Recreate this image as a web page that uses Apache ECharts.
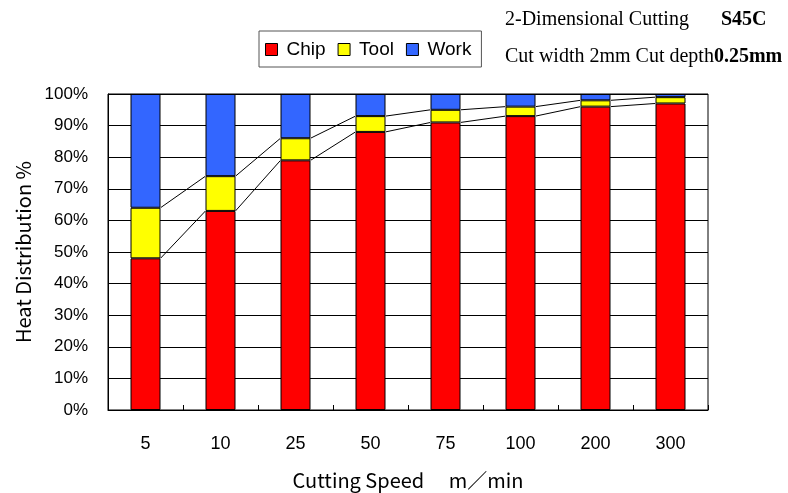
<!DOCTYPE html>
<html>
<head>
<meta charset="utf-8">
<script src="https://cdn.jsdelivr.net/npm/echarts@6/dist/echarts.min.js"></script>
<style>
  html, body { margin: 0; padding: 0; background: #fff; }
  #chart { width: 788px; height: 493px; }
</style>
</head>
<body>
<div id="chart"></div>
<script>
// Cutting speeds (m/min) and heat share (%) going to chip, tool and workpiece
const speeds = ['5', '10', '25', '50', '75', '100', '200', '300'];
const chip = [48, 63, 79, 88, 91, 93, 96, 97];
const tool = [16, 11, 7, 5, 4, 3, 2, 2];
const work = [36, 26, 14, 7, 5, 4, 2, 1];
const yTicks = [0, 10, 20, 30, 40, 50, 60, 70, 80, 90, 100];

// Connector lines between neighbouring bars at the chip and chip+tool levels
const chipTop = chip;
const toolTop = chip.map((c, i) => c + tool[i]);
const links = [];
for (let i = 0; i < speeds.length - 1; i++) {
  links.push([i, chipTop[i], chipTop[i + 1]]);
  links.push([i, toolTop[i], toolTop[i + 1]]);
}

const sans = 'Liberation Sans, Arial, sans-serif';
const gothic = 'Noto Sans CJK JP, ' + sans;
const serif = 'Liberation Serif, Times New Roman, serif';
const chart = echarts.init(document.getElementById('chart'));

chart.setOption({
  animation: false,
  backgroundColor: '#fff',
  textStyle: { fontFamily: sans },
  grid: {
    left: 108, right: 80, top: 94, bottom: 83,
    outerBoundsMode: 'none',
    containLabel: false,
    show: true, borderColor: '#000', borderWidth: 1
  },
  legend: {
    data: ['Chip', 'Tool', 'Work'],
    left: 259, top: 31,
    padding: [9, 10, 8, 6],
    borderColor: '#555', borderWidth: 1,
    itemWidth: 12, itemHeight: 12, itemGap: 12,
    icon: 'rect',
    itemStyle: { borderColor: '#000', borderWidth: 1 },
    textStyle: { fontSize: 19, color: '#000', fontFamily: sans, padding: [0, 0, 0, 4] }
  },
  graphic: [
    {
      type: 'text', left: 505, top: 10,
      style: {
        text: '{a|2-Dimensional Cutting}{b|S45C}',
        rich: {
          a: { fontFamily: serif, fontSize: 20, fill: '#000', width: 216 },
          b: { fontFamily: serif, fontSize: 20, fontWeight: 'bold', fill: '#000' }
        }
      }
    },
    {
      type: 'text', left: 505, top: 47,
      style: {
        text: '{a|Cut width 2mm Cut depth}{b|0.25mm}',
        rich: {
          a: { fontFamily: serif, fontSize: 20, fill: '#000' },
          b: { fontFamily: serif, fontSize: 20, fontWeight: 'bold', fill: '#000' }
        }
      }
    }
  ],
  xAxis: {
    type: 'category',
    data: speeds,
    name: 'Cutting Speed\u3000 m\uff0fmin',
    nameLocation: 'middle',
    nameGap: 60,
    nameTextStyle: { fontSize: 20, color: '#000', fontFamily: gothic },
    axisLine: { lineStyle: { color: '#000', width: 1 } },
    axisTick: { show: true, inside: true, length: 5, lineStyle: { color: '#000' } },
    axisLabel: { fontSize: 18, color: '#000', margin: 25 }
  },
  yAxis: {
    type: 'value',
    min: yTicks[0], max: yTicks[yTicks.length - 1], interval: 10,
    name: 'Heat Distribution %',
    nameLocation: 'middle',
    nameGap: 72,
    nameTextStyle: { fontSize: 20, color: '#000', fontFamily: gothic },
    axisLine: { show: true, lineStyle: { color: '#000' } },
    axisTick: { show: false },
    axisLabel: { formatter: '{value}%', fontSize: 17, color: '#000', margin: 20 },
    splitLine: { lineStyle: { color: '#000', width: 1 } }
  },
  series: [
    {
      name: 'Chip', type: 'bar', stack: 'heat', data: chip, barWidth: '40%',
      itemStyle: { color: '#ff0000', borderColor: '#000', borderWidth: 1 }
    },
    {
      name: 'Tool', type: 'bar', stack: 'heat', data: tool, barWidth: '40%',
      itemStyle: { color: '#ffff00', borderColor: '#000', borderWidth: 1 }
    },
    {
      name: 'Work', type: 'bar', stack: 'heat', data: work, barWidth: '40%',
      itemStyle: { color: '#3366ff', borderColor: '#000', borderWidth: 1 }
    },
    {
      name: 'links', type: 'custom', data: links, z: 5,
      renderItem: function (params, api) {
        const i = api.value(0);
        const half = api.size([1, 0])[0] * 0.2;
        const p1 = api.coord([i, api.value(1)]);
        const p2 = api.coord([i + 1, api.value(2)]);
        return {
          type: 'line',
          shape: { x1: p1[0] + half, y1: p1[1], x2: p2[0] - half, y2: p2[1] },
          style: { stroke: '#000', lineWidth: 1 }
        };
      }
    }
  ]
});
</script>
</body>
</html>
